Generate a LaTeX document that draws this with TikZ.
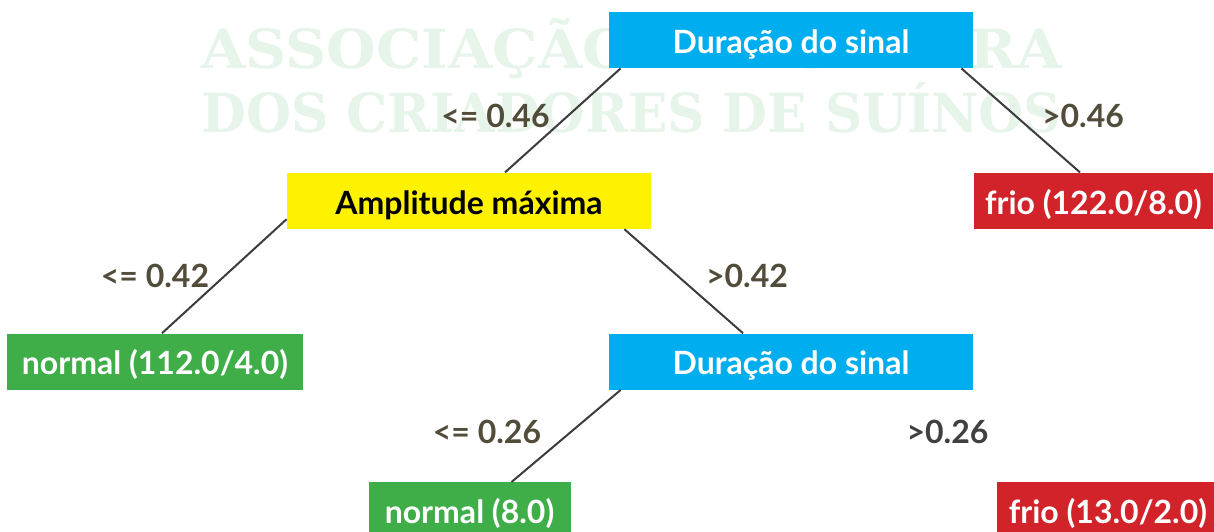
\documentclass[tikz,border=0pt]{standalone}
\usepackage{fontspec}
\setmainfont{Lato}
\newfontfamily\markfont{DejaVu Serif}
\usepackage{graphicx}
\usepackage{tikz}
\usetikzlibrary{positioning}
\usetikzlibrary{calc}

\definecolor{splitblue}{HTML}{00AEEF}
\definecolor{splityellow}{HTML}{FFF200}
\definecolor{leafred}{HTML}{D2232A}
\definecolor{leafgreen}{HTML}{3FAE49}
\definecolor{edgegray}{HTML}{3C3C3C}
\definecolor{labelolive}{HTML}{524C3A}
\definecolor{markgreen}{HTML}{E6F4EA}

\tikzset{
    box/.style={inner sep=0pt, minimum height=28pt, text height=13.3pt, text depth=0pt, font=\fontsize{16}{19}\selectfont\bfseries},
    splitbox/.style={box, fill=splitblue, text=white, minimum width=182pt},
    ampbox/.style={box, fill=splityellow, text=black, minimum width=182pt},
    coldleaf/.style={box, fill=leafred, text=white},
    normleaf/.style={box, fill=leafgreen, text=white},
    branch/.style={draw=edgegray, line width=1pt},
    cond/.style={anchor=base, text=labelolive, inner sep=0pt, font=\fontsize{16}{19}\selectfont\bfseries},
    watermark/.style={anchor=base west, inner sep=0pt, text=markgreen, font=\fontsize{27}{30}\selectfont\markfont\bfseries},
}

\begin{document}
\begin{tikzpicture}
    \useasboundingbox (0,0) rectangle (607pt,-265.5pt);

    \node [watermark] (wma) at (100.5pt,-34pt) {\resizebox{430pt}{\height}{ASSOCIAÇÃO BRASILEIRA}};
    \node [watermark] (wmb) at (100.5pt,-66pt) {\resizebox{430pt}{\height}{DOS CRIADORES DE SUÍNOS}};

    \node [splitbox] (root) at (395.5pt,-20pt) {Duração do sinal};
    \node [ampbox, below=52pt of root, xshift=-161pt] (amp) {Amplitude máxima};
    \node [coldleaf, minimum width=119.5pt, below=52pt of root, xshift=151.25pt] (frioa) {frio (122.0/8.0)};
    \node [normleaf, minimum width=148pt, below=52pt of amp, xshift=-157pt] (norma) {normal (112.0/4.0)};
    \node [splitbox, below=52pt of amp, xshift=161pt] (dur) {Duração do sinal};
    \node [normleaf, minimum width=101pt, below=46pt of dur, xshift=-160.75pt] (normb) {normal (8.0)};
    \node [coldleaf, minimum width=111pt, below=46pt of dur, xshift=158.5pt] (friob) {frio (13.0/2.0)};

    \draw [branch] ([xshift=6pt]root.south west) -- ([xshift=18pt]amp.north);
    \draw [branch] ([xshift=-6pt]root.south east) -- ([xshift=-6.75pt]frioa.north);
    \draw [branch] ([yshift=5pt]amp.south west) -- ([xshift=3.5pt]norma.north);
    \draw [branch] ([xshift=-13.5pt]amp.south east) -- ([xshift=-24pt]dur.north);
    \draw [branch] ([xshift=6pt]dur.south west) -- ([xshift=21pt]normb.north);

    \node [cond] (la) at (247.75pt,-63.5pt) {<= 0.46};
    \node [cond] (ra) at (541.5pt,-63.5pt) {>0.46};
    \node [cond] (lb) at (77.5pt,-143.5pt) {<= 0.42};
    \node [cond] (rb) at (373.5pt,-143.5pt) {>0.42};
    \node [cond] (lc) at (243.5pt,-221.5pt) {<= 0.26};
    \node [cond, text=darkgray] (rc) at (473.75pt,-221.5pt) {>0.26};
\end{tikzpicture}
\end{document}
